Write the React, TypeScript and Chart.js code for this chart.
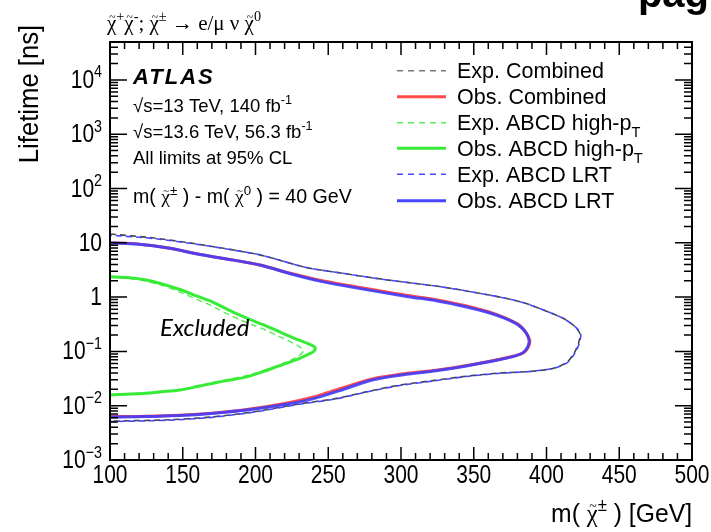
import React, { useEffect, useRef } from "react";
import { Chart, registerables } from "chart.js";
Chart.register(...registerables);

// ---------------- DATA ----------------
const xTickValues = [100, 150, 200, 250, 300, 350, 400, 450, 500];
const yDecades = [-3, -2, -1, 0, 1, 2, 3, 4];

// Obs. ABCD LRT (blue solid) : upper branch -> nose -> lower branch
const obsLrtMass = [100, 120, 140, 162, 185, 203, 224, 245, 265, 285, 305, 325, 345, 360, 372, 381, 386, 388, 387, 384, 378, 368, 345, 324, 304, 281, 258, 240, 220, 194, 170, 148, 125, 100];
const obsLrtLife = [10.0, 9.4, 8.0, 6.1, 4.8, 3.9, 2.7, 1.95, 1.55, 1.25, 1.02, 0.85, 0.66, 0.52, 0.40, 0.30, 0.22, 0.16, 0.12, 0.095, 0.082, 0.071, 0.054, 0.044, 0.038, 0.030, 0.019, 0.0135, 0.0105, 0.0083, 0.0072, 0.0066, 0.0063, 0.0062];

// Obs. Combined (red solid)
const obsCombMass = [100, 120, 140, 162, 185, 203, 224, 245, 265, 285, 305, 325, 345, 360, 372, 381, 386, 388.5, 387.5, 384.5, 378.5, 368, 345, 324, 304, 281, 258, 240, 220, 194, 170, 148, 125, 100];
const obsCombLife = [10.05, 9.45, 8.05, 6.1, 4.8, 3.9, 2.75, 2.02, 1.62, 1.31, 1.07, 0.89, 0.69, 0.54, 0.41, 0.31, 0.22, 0.16, 0.12, 0.096, 0.083, 0.072, 0.055, 0.045, 0.0395, 0.0315, 0.0205, 0.0145, 0.011, 0.0085, 0.0073, 0.0067, 0.0064, 0.0063];

// Exp. Combined (dark dashed)
const expCombMass = [100, 130, 162, 203, 235, 260, 281, 305, 324, 345, 368, 385, 400, 412, 420, 423, 422, 419, 414, 405, 390, 368, 345, 322, 299, 276, 255, 230, 200, 170, 140, 100];
const expCombLife = [14.5, 12.3, 9.3, 6.0, 3.5, 2.75, 2.25, 1.85, 1.6, 1.3, 1.0, 0.78, 0.55, 0.40, 0.28, 0.21, 0.14, 0.093, 0.063, 0.049, 0.043, 0.040, 0.035, 0.029, 0.024, 0.018, 0.0135, 0.0108, 0.0078, 0.0062, 0.0055, 0.0052];

// Exp. ABCD LRT (blue dashed)
const expLrtMass = [100, 130, 162, 203, 235, 260, 281, 305, 324, 345, 368, 385, 400, 412, 420, 423.5, 422.5, 419.5, 414.5, 405, 390, 368, 345, 322, 299, 276, 255, 230, 200, 170, 140, 100];
const expLrtLife = [13.8, 12.0, 9.2, 6.0, 3.5, 2.75, 2.25, 1.85, 1.6, 1.3, 1.0, 0.78, 0.55, 0.40, 0.28, 0.21, 0.14, 0.093, 0.063, 0.049, 0.043, 0.0395, 0.0345, 0.0285, 0.0235, 0.0178, 0.0133, 0.0106, 0.0077, 0.0061, 0.0054, 0.0051];

// Obs. ABCD high-pT (green solid)
const obsHptMass = [100, 112, 125, 137, 148, 160, 171, 180, 189, 199, 208, 218, 226, 233, 238, 241, 240, 237, 230, 221, 208, 194, 180, 171, 160, 148, 135, 125, 112, 100];
const obsHptLife = [2.38, 2.30, 2.07, 1.72, 1.38, 1.04, 0.80, 0.61, 0.47, 0.36, 0.29, 0.22, 0.178, 0.150, 0.132, 0.117, 0.100, 0.090, 0.074, 0.060, 0.045, 0.034, 0.029, 0.026, 0.0225, 0.0195, 0.018, 0.017, 0.0163, 0.0158];

// Exp. ABCD high-pT (green dashed)
const expHptMass = [100, 112, 125, 137, 148, 160, 171, 180, 189, 199, 208, 216, 223, 229, 232, 233, 231, 226, 220, 208, 194, 180, 171, 160, 148, 135, 125, 112, 100];
const expHptLife = [2.32, 2.22, 1.96, 1.60, 1.24, 0.90, 0.67, 0.50, 0.385, 0.30, 0.24, 0.19, 0.155, 0.128, 0.112, 0.102, 0.088, 0.073, 0.062, 0.047, 0.036, 0.030, 0.027, 0.023, 0.020, 0.0185, 0.0174, 0.0166, 0.016];

const legendLabels = ["Exp. Combined", "Obs. Combined", "Exp. ABCD high-p", "Obs. ABCD high-p", "Exp. ABCD LRT", "Obs. ABCD LRT"];

// ---------------- STYLE ----------------
const RED = "rgb(255,75,75)";
const BLUE = "rgba(60,60,255,0.88)";
const BLUE_LEG = "rgb(70,70,255)";
const GREEN = "rgb(55,235,55)";
const GREEN_D = "rgb(90,235,90)";
const BLUE_D = "rgb(70,70,255)";
const GRAY_D = "rgb(70,70,70)";
const SANS = '"Liberation Sans", Arial, sans-serif';
const SERIF = '"Liberation Serif", "Times New Roman", serif';

type Part = { t: string; sup?: boolean; sub?: boolean; serif?: boolean; tilde?: boolean };

function drawRich(
  ctx: CanvasRenderingContext2D,
  x: number,
  y: number,
  parts: Part[],
  size: number,
  family: string,
  align: "left" | "right" | "center" = "left",
  style = "",
  sx = 1
) {
  const fontFor = (p: Part) => {
    const fs = p.sup || p.sub ? size * 0.68 : size;
    const fam = p.serif ? SERIF : family;
    return `${style} ${fs}px ${fam}`;
  };
  ctx.save();
  ctx.textAlign = "left";
  ctx.textBaseline = "alphabetic";
  let total = 0;
  const widths = parts.map((p) => {
    ctx.font = fontFor(p);
    const w = ctx.measureText(p.t).width;
    total += w;
    return w;
  });
  total *= sx;
  const cx = align === "left" ? x : align === "right" ? x - total : x - total / 2;
  ctx.translate(cx, y);
  ctx.scale(sx, 1);
  let px = 0;
  parts.forEach((p, i) => {
    ctx.font = fontFor(p);
    const dy = p.sup ? -size * 0.42 : p.sub ? size * 0.32 : 0;
    ctx.fillText(p.t, px, dy);
    if (p.tilde) {
      ctx.save();
      ctx.font = `${size * 0.55}px ${SERIF}`;
      ctx.textAlign = "center";
      ctx.fillText("~", px + widths[i] / 2 + size * 0.03, -size * 0.44);
      ctx.restore();
    }
    px += widths[i];
  });
  ctx.restore();
}

const chi = (): Part => ({ t: "χ", serif: true, tilde: true });

const decorPlugin = {
  id: "atlasDecor",
  afterDatasetsDraw(chart: any) {
    const ctx: CanvasRenderingContext2D = chart.ctx;
    const { left, right, top, bottom } = chart.chartArea;
    const xs = chart.scales.x;
    const ys = chart.scales.y;
    ctx.save();
    ctx.fillStyle = "#000";
    ctx.strokeStyle = "#000";

    // frame
    ctx.lineWidth = 2;
    ctx.strokeRect(left, top, right - left, bottom - top);

    // x ticks
    ctx.lineWidth = 1.5;
    for (let v = 100; v <= 500; v += 10) {
      const px = xs.getPixelForValue(v);
      const major = v % 50 === 0;
      const len = major ? 13 : 7;
      ctx.beginPath();
      ctx.moveTo(px, bottom);
      ctx.lineTo(px, bottom - len);
      ctx.moveTo(px, top);
      ctx.lineTo(px, top + len);
      ctx.stroke();
    }
    // y ticks
    for (let d = -3; d <= 4; d++) {
      for (let k = 1; k <= 9; k++) {
        const v = k * Math.pow(10, d);
        if (v > 5e4 + 1) continue;
        const py = ys.getPixelForValue(v);
        const len = k === 1 ? 17 : 8;
        ctx.beginPath();
        ctx.moveTo(left, py);
        ctx.lineTo(left + len, py);
        ctx.moveTo(right, py);
        ctx.lineTo(right - len, py);
        ctx.stroke();
      }
    }

    // x tick labels
    xTickValues.forEach((v) => {
      drawRich(ctx, xs.getPixelForValue(v), bottom + 23, [{ t: String(v) }], 25, SANS, "center", "", 0.84);
    });
    // y tick labels
    yDecades.forEach((d) => {
      const py = ys.getPixelForValue(Math.pow(10, d));
      let parts: Part[];
      if (d === 0) parts = [{ t: "1" }];
      else if (d === 1) parts = [{ t: "10" }];
      else parts = [{ t: "10" }, { t: d < 0 ? "−" + Math.abs(d) : String(d), sup: true }];
      drawRich(ctx, left - 8, py + 8, parts, 25, SANS, "right", "", 0.84);
    });

    // axis titles
    ctx.save();
    ctx.translate(38, 94);
    ctx.rotate(-Math.PI / 2);
    drawRich(ctx, 0, 0, [{ t: "Lifetime [ns]" }], 27, SANS, "center", "", 0.95);
    ctx.restore();
    drawRich(ctx, right, 522, [{ t: "m( " }, chi(), { t: "±", sup: true }, { t: " ) [GeV]" }], 26, SANS, "right", "", 0.95);

    // top process label
    drawRich(
      ctx,
      107,
      30,
      [chi(), { t: "+", sup: true }, chi(), { t: "-", sup: true }, { t: "; " }, chi(), { t: "±", sup: true }, { t: " → e/μ ν " }, chi(), { t: "0", sup: true }],
      21,
      SERIF
    );

    // cut-off slide title at top right
    ctx.font = `bold 40px ${SANS}`;
    ctx.textAlign = "right";
    ctx.fillText("pag", 709, 7);
    ctx.textAlign = "left";

    // ATLAS block
    ctx.save();
    (ctx as any).letterSpacing = "2px";
    ctx.font = `bold italic 22px ${SANS}`;
    ctx.fillText("ATLAS", 133, 84);
    ctx.restore();
    drawRich(ctx, 133, 112, [{ t: "√s=13 TeV, 140 fb" }, { t: "-1", sup: true }], 18.5, SANS);
    drawRich(ctx, 133, 138, [{ t: "√s=13.6 TeV, 56.3 fb" }, { t: "-1", sup: true }], 18.5, SANS);
    drawRich(ctx, 133, 164, [{ t: "All limits at 95% CL" }], 18.5, SANS);
    drawRich(
      ctx,
      133,
      203,
      [{ t: "m( " }, chi(), { t: "±", sup: true }, { t: " ) - m( " }, chi(), { t: "0", sup: true }, { t: " ) = 40 GeV" }],
      19.6,
      SANS
    );

    // Excluded
    ctx.font = `italic 24px Lato, "Open Sans", sans-serif`;
    ctx.fillText("Excluded", 160, 336);

    // legend
    const rows = [70.7, 96.7, 122.7, 148.3, 174.3, 200.7];
    const lstyles = [
      { c: "rgb(120,120,120)", w: 1.5, dash: [6, 5] },
      { c: RED, w: 3, dash: [] },
      { c: GREEN_D, w: 1.5, dash: [6, 5] },
      { c: GREEN, w: 3, dash: [] },
      { c: BLUE_D, w: 1.5, dash: [6, 5] },
      { c: BLUE_LEG, w: 3, dash: [] },
    ];
    rows.forEach((ry, i) => {
      const s = lstyles[i];
      ctx.save();
      ctx.strokeStyle = s.c;
      ctx.lineWidth = s.w;
      ctx.setLineDash(s.dash);
      ctx.beginPath();
      ctx.moveTo(397, ry);
      ctx.lineTo(446, ry);
      ctx.stroke();
      ctx.restore();
      const parts: Part[] = [{ t: legendLabels[i] }];
      if (i === 2 || i === 3) parts.push({ t: "T", sub: true });
      drawRich(ctx, 457, ry + 7.5, parts, 21.5, SANS);
    });

    ctx.restore();
  },
};

function pts(m: number[], l: number[]) {
  return m.map((x, i) => ({ x, y: l[i] }));
}

export default function App() {
  const ref = useRef<HTMLCanvasElement | null>(null);
  useEffect(() => {
    document.body.style.margin = "0";
    const canvas = ref.current!;
    // Chart.js draws lower "order" values on top
    const chart = new Chart(canvas, {
      type: "line",
      data: {
        datasets: [
          { data: pts(obsLrtMass, obsLrtLife), borderColor: BLUE, borderWidth: 3, order: 0 },
          { data: pts(obsCombMass, obsCombLife), borderColor: RED, borderWidth: 3, order: 1 },
          { data: pts(expLrtMass, expLrtLife), borderColor: BLUE_D, borderWidth: 1.6, borderDash: [6, 4], borderDashOffset: 4, tension: 0.25, order: 2 },
          { data: pts(expCombMass, expCombLife), borderColor: GRAY_D, borderWidth: 1.6, borderDash: [6, 4], tension: 0.25, order: 3 },
          { data: pts(obsHptMass, obsHptLife), borderColor: GREEN, borderWidth: 3, order: 4 },
          { data: pts(expHptMass, expHptLife), borderColor: GREEN_D, borderWidth: 1.4, borderDash: [6, 4], order: 5 },
        ] as any,
      },
      options: {
        responsive: false,
        animation: false,
        layout: { padding: { left: 110, right: 19, top: 42, bottom: 72 } },
        plugins: { legend: { display: false }, tooltip: { enabled: false } },
        elements: { point: { radius: 0 }, line: { tension: 0.3, fill: false } },
        scales: {
          x: { type: "linear", min: 100, max: 500, display: false },
          y: { type: "logarithmic", min: 1e-3, max: 5e4, display: false },
        },
      },
      plugins: [decorPlugin],
    });
    return () => chart.destroy();
  }, []);
  return <canvas ref={ref} width={711} height={532} style={{ display: "block" }} />;
}
